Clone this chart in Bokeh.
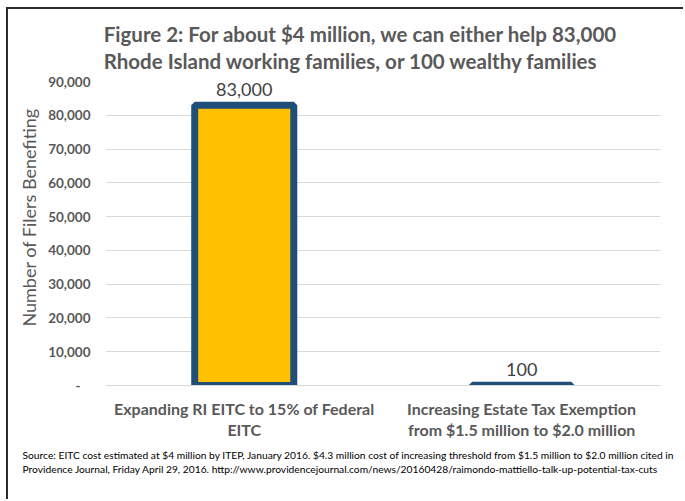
from bokeh.plotting import figure
from bokeh.models import ColumnDataSource, FixedTicker, LabelSet, Title, Range1d
from bokeh.core.properties import value
from bokeh.embed import file_html
from bokeh.resources import INLINE

categories = ["Expanding RI EITC to 15% of Federal\nEITC",
              "Increasing Estate Tax Exemption\nfrom $1.5 million to $2.0 million"]
filers = [83000, 100]
value_labels = ["83,000", "100"]
y_ticks = [0, 10000, 20000, 30000, 40000, 50000, 60000, 70000, 80000, 90000]
y_tick_labels = ["-\u00a0\u00a0\u00a0", "10,000", "20,000", "30,000", "40,000", "50,000",
                 "60,000", "70,000", "80,000", "90,000"]
title_lines = ["Figure 2: For about $4 million, we can either help 83,000",
               "Rhode Island working families, or 100 wealthy families"]
y_label = "Number of Filers Benefiting"
source_text = ("Source: EITC cost estimated at $4 million by ITEP, January 2016. $4.3 million cost of "
               "increasing threshold from $1.5 million to $2.0 million cited in\n"
               "Providence Journal, Friday April 29, 2016. "
               "http://www.providencejournal.com/news/20160428/raimondo-mattiello-talk-up-potential-tax-cuts")

FONT = "Lato"
GRAY = "#595959"
PAD = "\u00a0" * 9  # shifts the centred title left, as in the original

src = ColumnDataSource(dict(cat=categories, val=filers, lab=value_labels))

p = figure(x_range=categories, y_range=Range1d(0, 90000), width=677, height=492,
           output_backend="svg", toolbar_location=None,
           min_border_left=97, min_border_right=25, min_border_top=72, min_border_bottom=116)
p.margin = (7, 0, 0, 6)
p.styles = {"border-top": "2px solid #2b2b2b", "border-left": "2px solid #2b2b2b"}

p.vbar(x="cat", top="val", width=0.357, source=src, fill_color="#FFC000",
       line_color="#1F4E79", line_width=7)

p.add_layout(LabelSet(x="cat", y="val", text="lab", source=src, text_align="center",
                      text_baseline="alphabetic", y_offset=9, text_font=value(FONT),
                      text_font_size=value("18px"), text_color="#404040"))

p.title.text = "\n".join(l + PAD for l in title_lines)
p.title.align = "center"
p.title.standoff = 17
p.title.text_font = FONT
p.title.text_font_size = "20.5px"
p.title.text_font_style = "bold"
p.title.text_color = GRAY
p.title.text_line_height = 1.14

p.add_layout(Title(text=source_text, align="left", text_font=FONT, text_font_size="10.25px",
                   text_font_style="normal", text_color="black", offset=-83,
                   text_line_height=1.2, standoff=9), "below")

p.yaxis.ticker = FixedTicker(ticks=y_ticks)
p.yaxis.major_label_overrides = {t: l for t, l in zip(y_ticks, y_tick_labels)}
p.yaxis.axis_label = "\u00a0" * 7 + y_label
p.yaxis.axis_label_text_font = FONT
p.yaxis.axis_label_text_font_size = "18px"
p.yaxis.axis_label_text_font_style = "normal"
p.yaxis.axis_label_text_color = GRAY
p.yaxis.axis_label_standoff = 5
p.yaxis.major_label_text_font = FONT
p.yaxis.major_label_text_font_size = "13.5px"
p.yaxis.major_label_text_font_style = "bold"
p.yaxis.major_label_text_color = GRAY
p.yaxis.axis_line_color = None
p.yaxis.major_tick_line_color = None
p.yaxis.minor_tick_line_color = None
p.yaxis.major_tick_out = 0
p.yaxis.major_tick_in = 0
p.yaxis.major_label_standoff = 15

p.xaxis.major_label_text_font = FONT
p.xaxis.major_label_text_font_size = "16px"
p.xaxis.major_label_text_font_style = "bold"
p.xaxis.major_label_text_color = GRAY
p.xaxis.major_label_text_line_height = 1.15
p.xaxis.axis_line_color = "#D9D9D9"
p.xaxis.major_tick_line_color = None
p.xaxis.minor_tick_line_color = None
p.xaxis.major_tick_out = 0
p.xaxis.major_tick_in = 0
p.xaxis.major_label_standoff = 13

p.xgrid.grid_line_color = None
p.ygrid.grid_line_color = "#D9D9D9"
p.outline_line_color = None

open("out.html", "w").write(file_html(p, INLINE))
